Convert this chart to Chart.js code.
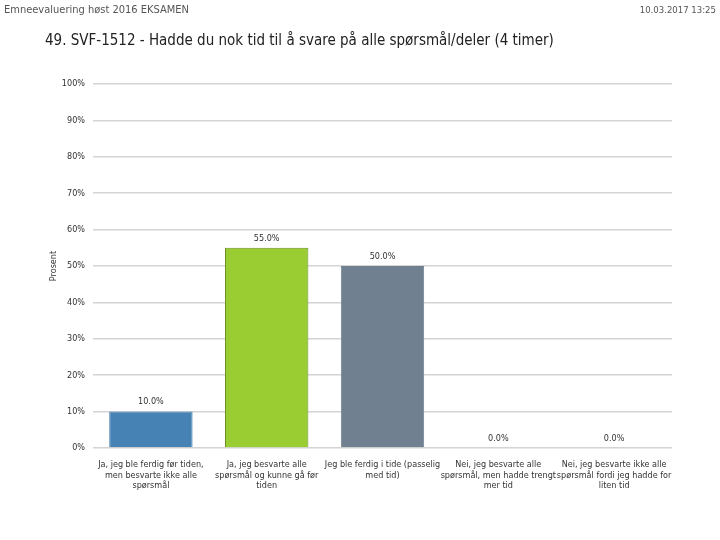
<!DOCTYPE html>
<html>
<head>
<meta charset="utf-8">
<script src="https://cdn.jsdelivr.net/npm/chart.js@4.4.0/dist/chart.umd.min.js"></script>
<style>
  body { margin: 0; background: #fff; }
  #wrap { position: relative; width: 720px; height: 540px; }
  #chart { position: absolute; left: 0; top: 0; }
  .txt { position: absolute; font-family: "DejaVu Sans Condensed", "Liberation Sans", sans-serif; color: #444; white-space: nowrap; }
</style>
</head>
<body>
<div id="wrap">
  <canvas id="chart" width="720" height="540"></canvas>
  <div class="txt" style="left:4px; top:3px; font-size:11px; color:#555;">Emneevaluering høst 2016 EKSAMEN</div>
  <div class="txt" style="right:4px; top:4px; font-size:9.5px; color:#555;">10.03.2017 13:25</div>
  <div class="txt" style="left:45px; top:31px; font-size:15px; color:#222;">49. SVF-1512 - Hadde du nok tid til å svare på alle spørsmål/deler (4 timer)</div>
</div>
<script>
// svaralternativer og prosent
var categories = [
  ["Ja, jeg ble ferdig før tiden,", "men besvarte ikke alle", "spørsmål"],
  ["Ja, jeg besvarte alle", "spørsmål og kunne gå før", "tiden"],
  ["Jeg ble ferdig i tide (passelig", "med tid)"],
  ["Nei, jeg besvarte alle", "spørsmål, men hadde trengt", "mer tid"],
  ["Nei, jeg besvarte ikke alle", "spørsmål fordi jeg hadde for", "liten tid"]
];
var values = [10.0, 55.0, 50.0, 0.0, 0.0];
var colors = ["#4682B4", "#9ACD32", "#708090", "#4682B4", "#4682B4"];
var borders = ["#4682B4", "#6b8e23", "#708090", "#4682B4", "#4682B4"];
var yTicks = [0, 10, 20, 30, 40, 50, 60, 70, 80, 90, 100];

var fnt = "DejaVu Sans Condensed";

var valueLabels = {
  id: 'valueLabels',
  afterDatasetsDraw: function(chart) {
    var ctx = chart.ctx;
    var meta = chart.getDatasetMeta(0);
    ctx.save();
    ctx.font = "9px '" + fnt + "'";
    ctx.fillStyle = "#333";
    ctx.textAlign = "center";
    ctx.textBaseline = "bottom";
    meta.data.forEach(function(bar, i) {
      ctx.fillText(values[i].toFixed(1) + "%", bar.x, bar.y - 5);
    });
    ctx.restore();
  }
};

new Chart(document.getElementById('chart'), {
  type: 'bar',
  data: {
    labels: categories,
    datasets: [{
      data: values,
      backgroundColor: colors,
      borderColor: borders,
      borderWidth: 1,
      barPercentage: 0.72,
      categoryPercentage: 1.0
    }]
  },
  plugins: [valueLabels],
  options: {
    responsive: false,
    animation: false,
    layout: { padding: { left: 48, right: 48, top: 84, bottom: 29 } },
    plugins: { legend: { display: false }, tooltip: { enabled: false } },
    scales: {
      x: {
        grid: { display: false },
        border: { display: false },
        ticks: { color: "#333", font: { family: fnt, size: 9 }, maxRotation: 0, autoSkip: false, padding: 3 },
        afterFit: function(s) { s.height = 63; }
      },
      y: {
        min: 0, max: 100,
        afterBuildTicks: function(s) { s.ticks = yTicks.map(function(v) { return { value: v }; }); },
        grid: { color: "#d4d4d4", lineWidth: 1.5, drawTicks: false },
        border: { display: false },
        ticks: { color: "#333", font: { family: fnt, size: 9 }, padding: 8, callback: function(v) { return v + "%"; } },
        title: { display: true, text: "Prosent", color: "#333", font: { family: fnt, size: 9 }, padding: 0 },
        afterFit: function(s) { s.width = 45; }
      }
    }
  }
});
</script>
</body>
</html>
